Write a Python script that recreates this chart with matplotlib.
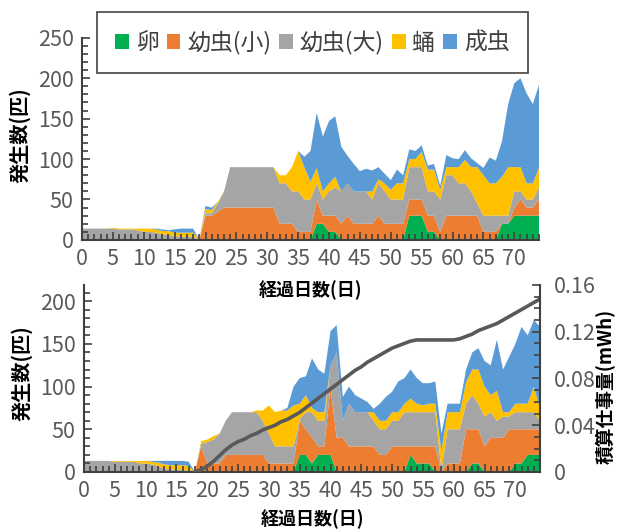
import numpy as np
import matplotlib
matplotlib.use('Agg')
import matplotlib.pyplot as plt
from matplotlib.patches import Patch
from matplotlib.ticker import MultipleLocator

plt.rcParams['font.family'] = ['Noto Sans CJK JP', 'DejaVu Sans']

# 経過日数 0..74
days = np.arange(75)
stages = ['卵', '幼虫(小)', '幼虫(大)', '蛹', '成虫']
colors = ['#00B050', '#ED7D31', '#A5A5A5', '#FFC000', '#5B9BD5']

# 上段: 発生数(匹)
top_egg = [0, 0, 0, 0, 0, 0, 0, 0, 0, 0,
           0, 0, 0, 0, 0, 0, 0, 0, 0, 0,
           0, 0, 0, 0, 0, 0, 0, 0, 0, 0,
           0, 0, 0, 0, 0, 0, 0, 0, 20, 20,
           10, 10, 0, 0, 0, 0, 0, 0, 0, 0,
           0, 0, 0, 30, 30, 30, 10, 10, 0, 0,
           0, 0, 0, 0, 0, 0, 0, 0, 20, 20,
           30, 30, 30, 30, 30]
top_small = [0, 0, 0, 0, 0, 0, 0, 0, 0, 0,
             0, 0, 0, 0, 0, 0, 0, 0, 0, 0,
             30, 30, 35, 40, 40, 40, 40, 40, 40, 40,
             40, 40, 20, 20, 20, 10, 10, 10, 30, 10,
             20, 20, 20, 30, 20, 20, 20, 20, 30, 20,
             20, 20, 20, 20, 20, 20, 20, 20, 10, 30,
             30, 30, 30, 30, 30, 10, 10, 10, 0, 0,
             10, 20, 10, 10, 20]
top_large = [14, 14, 14, 14, 14, 14, 13, 13, 13, 12,
             10, 10, 9, 7, 6, 5, 4, 4, 4, 0,
             3, 3, 10, 20, 50, 50, 50, 50, 50, 50,
             50, 50, 50, 50, 40, 50, 40, 40, 20, 20,
             30, 35, 40, 40, 40, 40, 40, 30, 40, 40,
             30, 30, 30, 40, 40, 40, 30, 30, 40, 50,
             50, 40, 40, 30, 15, 20, 20, 20, 10, 10,
             20, 10, 10, 10, 15]
top_pupa = [0, 0, 0, 0, 0, 1, 1, 1, 1, 2,
            4, 4, 4, 4, 5, 4, 5, 5, 5, 0,
            5, 4, 2, 0, 0, 0, 0, 0, 0, 0,
            0, 0, 10, 10, 30, 50, 40, 22, 19, 10,
            10, 13, 0, 0, 0, 0, 0, 10, 5, 10,
            12, 20, 20, 10, 10, 19, 27, 27, 12, 10,
            10, 20, 29, 30, 45, 50, 40, 40, 48, 60,
            30, 30, 20, 20, 24]
top_adult = [0, 0, 0, 0, 0, 0, 0, 0, 0, 0,
             0, 0, 1, 2, 1, 4, 5, 5, 5, 0,
             4, 3, 0, 0, 0, 0, 0, 0, 0, 0,
             0, 0, 0, 0, 0, 0, 13, 38, 68, 68,
             77, 75, 55, 34, 34, 25, 28, 26, 15, 12,
             12, 17, 10, 12, 10, 8, 5, 7, 5, 15,
             11, 10, 12, 11, 5, 9, 32, 28, 44, 78,
             104, 110, 111, 98, 103]

# 下段: 発生数(匹)
bot_egg = [0, 0, 0, 0, 0, 0, 0, 0, 0, 0,
           0, 0, 0, 0, 0, 0, 0, 0, 0, 0,
           0, 0, 0, 0, 0, 0, 0, 0, 0, 0,
           0, 0, 0, 0, 0, 20, 20, 10, 20, 20,
           20, 0, 0, 0, 0, 0, 0, 0, 0, 0,
           0, 0, 0, 20, 10, 10, 10, 0, 0, 0,
           0, 0, 0, 10, 10, 0, 0, 0, 0, 0,
           10, 10, 20, 20, 20]
bot_small = [0, 0, 0, 0, 0, 0, 0, 0, 0, 0,
             0, 0, 0, 0, 0, 0, 0, 0, 0, 30,
             10, 10, 10, 20, 20, 20, 20, 20, 20, 20,
             10, 10, 10, 10, 10, 40, 30, 30, 10, 10,
             80, 40, 40, 30, 30, 30, 30, 30, 20, 20,
             30, 30, 30, 10, 20, 20, 20, 30, 0, 10,
             10, 10, 50, 40, 40, 30, 40, 40, 40, 50,
             40, 40, 30, 30, 30]
bot_large = [13, 13, 13, 13, 13, 12, 12, 12, 12, 10,
             10, 9, 7, 4, 3, 3, 2, 2, 0, 3,
             25, 28, 35, 40, 50, 50, 50, 50, 50, 40,
             35, 20, 20, 20, 20, 2, 20, 30, 30, 30,
             25, 100, 20, 50, 40, 40, 40, 30, 30, 30,
             30, 30, 40, 40, 40, 40, 40, 40, 2, 40,
             40, 40, 30, 40, 30, 35, 30, 20, 25, 15,
             20, 20, 20, 20, 10]
bot_pupa = [0, 0, 0, 0, 0, 1, 1, 1, 1, 3,
            3, 3, 4, 5, 5, 5, 6, 5, 0, 3,
            3, 4, 0, 0, 0, 0, 0, 0, 2, 12,
            33, 40, 42, 42, 48, 18, 20, 5, 10, 10,
            0, 0, 0, 0, 0, 0, 0, 10, 10, 10,
            10, 10, 10, 16, 10, 8, 10, 10, 23, 20,
            20, 20, 25, 30, 40, 35, 20, 35, 5, 5,
            10, 10, 10, 30, 15]
bot_adult = [0, 0, 0, 0, 0, 0, 0, 0, 0, 0,
             0, 1, 2, 4, 5, 5, 5, 5, 0, 0,
             0, 0, 0, 0, 0, 0, 0, 0, 0, 0,
             0, 0, 0, 3, 22, 30, 22, 58, 50, 45,
             40, 32, 28, 20, 20, 16, 12, 4, 20, 28,
             24, 36, 30, 34, 30, 26, 24, 26, 20, 10,
             10, 10, 15, 20, 25, 30, 35, 60, 50, 65,
             70, 90, 80, 78, 95]

# 積算仕事量(mWh), 18日目から
work_days = np.arange(18, 75)
work = [0.000, 0.002, 0.005, 0.009, 0.014, 0.019, 0.023, 0.026, 0.028, 0.031,
        0.033, 0.036, 0.038, 0.040, 0.043, 0.045, 0.048, 0.051, 0.055, 0.059,
        0.063, 0.067, 0.071, 0.075, 0.079, 0.083, 0.087, 0.090, 0.094, 0.097,
        0.100, 0.103, 0.106, 0.108, 0.110, 0.112, 0.113, 0.113, 0.113, 0.113,
        0.113, 0.113, 0.113, 0.114, 0.116, 0.118, 0.121, 0.123, 0.125, 0.127,
        0.130, 0.133, 0.136, 0.139, 0.142, 0.145, 0.148]

spine_c = '#404040'
tick_c = '#595959'
tick_font = ['Liberation Sans Narrow', 'Noto Sans CJK JP']


def style_axis(ax, ymax, ymajor, yminor):
    ax.set_xlim(0, 74)
    ax.set_ylim(0, ymax)
    ax.xaxis.set_major_locator(MultipleLocator(5))
    ax.xaxis.set_minor_locator(MultipleLocator(1))
    ax.yaxis.set_major_locator(MultipleLocator(ymajor))
    ax.yaxis.set_minor_locator(MultipleLocator(yminor))
    ax.tick_params(which='both', direction='in', color=spine_c, width=1.2,
                   labelcolor=tick_c, labelsize=15.5, pad=6)
    ax.tick_params(which='major', length=6)
    ax.tick_params(which='minor', length=4)
    for s in ['top', 'right']:
        ax.spines[s].set_visible(False)
    for s in ['left', 'bottom']:
        ax.spines[s].set_color(spine_c)
        ax.spines[s].set_linewidth(1.5)
    for lab in ax.get_xticklabels() + ax.get_yticklabels():
        lab.set_family(tick_font)


fig = plt.figure(figsize=(6.21, 5.32), dpi=100)
ax1 = fig.add_axes([0.132, 0.549, 0.736, 0.380])
ax2 = fig.add_axes([0.1353, 0.1128, 0.7343, 0.3515])
# 下段の背景は透明にして上段の軸ラベルを隠さない
ax2.patch.set_visible(False)

# 上段
ax1.stackplot(days, top_egg, top_small, top_large, top_pupa, top_adult,
              colors=colors, linewidth=0)
style_axis(ax1, 250, 50, 10)
ax1.set_xlabel('経過日数(日)', fontsize=13, fontweight='bold')
ax1.xaxis.set_label_coords(0.5, -0.2)
ax1.set_ylabel('発生数(匹)', fontsize=14.5, fontweight='bold')
ax1.yaxis.set_label_coords(-0.112, 0.52)

# 下段
ax2.stackplot(days, bot_egg, bot_small, bot_large, bot_pupa, bot_adult,
              colors=colors, linewidth=0)
style_axis(ax2, 219, 50, 10)
ax2.set_xlabel('経過日数(日)', fontsize=13, fontweight='bold')
ax2.xaxis.set_label_coords(0.5, -0.2)
ax2.set_ylabel('発生数(匹)', fontsize=14.5, fontweight='bold')
ax2.yaxis.set_label_coords(-0.112, 0.53)

ax2r = ax2.twinx()
ax2r.plot(work_days, work, color='#595959', linewidth=2.6)
ax2r.set_ylim(0, 0.16)
ax2r.set_yticks([0, 0.04, 0.08, 0.12, 0.16])
ax2r.set_yticklabels(['0', '0.04', '0.08', '0.12', '0.16'])
ax2r.yaxis.set_minor_locator(MultipleLocator(0.01))
ax2r.tick_params(which='both', direction='in', color=spine_c, width=1.2,
                 labelcolor=tick_c, labelsize=15.5, pad=10)
ax2r.tick_params(which='major', length=6)
ax2r.tick_params(which='minor', length=4)
for s in ['top', 'left', 'bottom']:
    ax2r.spines[s].set_visible(False)
ax2r.spines['right'].set_color(spine_c)
ax2r.spines['right'].set_linewidth(1.5)
for lab in ax2r.get_yticklabels():
    lab.set_family(tick_font)
ax2r.set_ylabel('積算仕事量(mWh)', fontsize=13.5, fontweight='bold')
ax2r.yaxis.set_label_coords(1.122, 0.46)

# 凡例
handles = [Patch(facecolor=c, edgecolor='none') for c in colors]
leg = fig.legend(handles, stages, loc='upper left',
                 bbox_to_anchor=(0.156, 0.861, 0.694, 0.116), mode='expand',
                 ncol=5, fontsize=16.5, frameon=True, fancybox=False,
                 edgecolor='#262626', borderpad=0.8, handlelength=0.6,
                 handleheight=0.6, handletextpad=0.3, columnspacing=0.8,
                 borderaxespad=0)
leg.get_frame().set_linewidth(1.3)
for t in leg.get_texts():
    t.set_color('#404040')

fig.savefig('out.png', dpi=100)
